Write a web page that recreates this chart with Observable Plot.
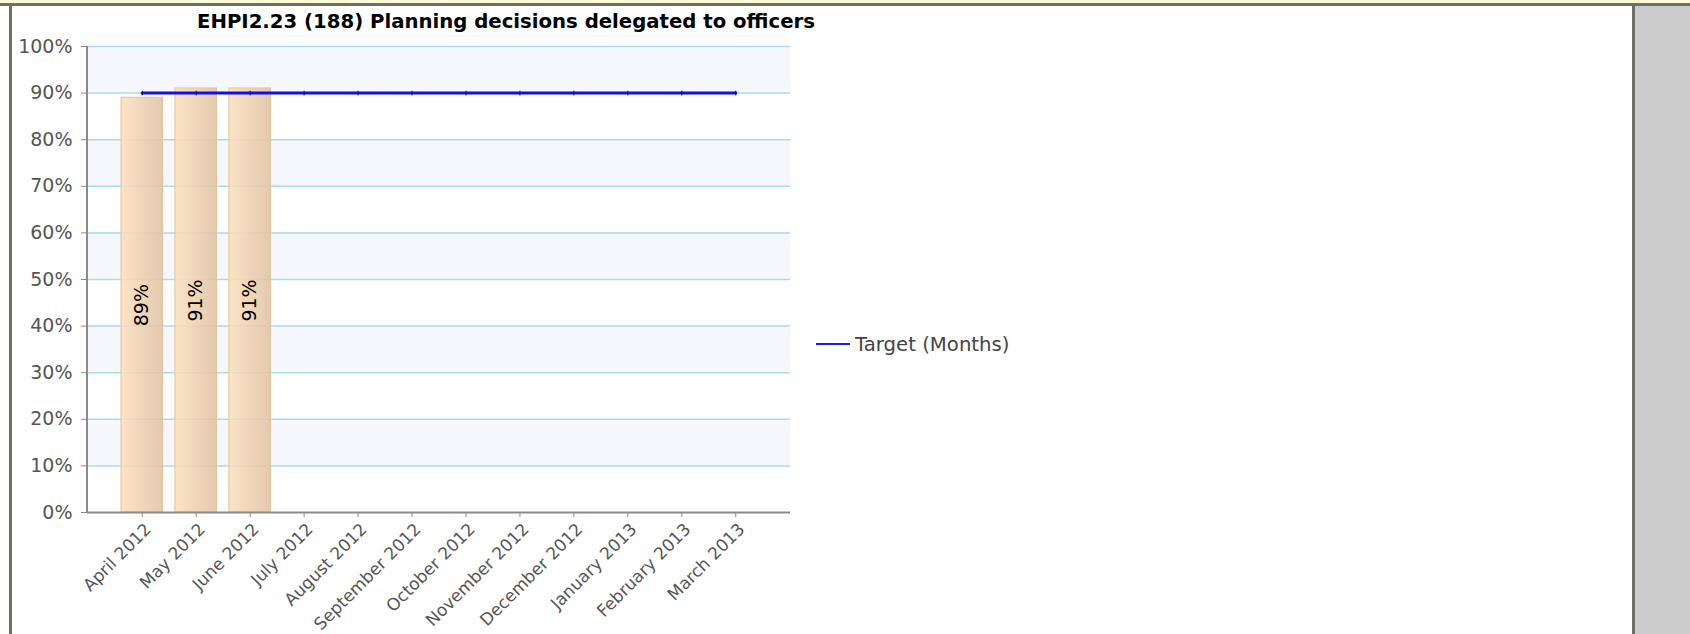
<!DOCTYPE html>
<html><head><meta charset="utf-8">
<script src="https://cdn.jsdelivr.net/npm/d3@7"></script>
<script src="https://cdn.jsdelivr.net/npm/@observablehq/plot@0.6"></script>
<style>
body{margin:0;background:#fff;font-family:"DejaVu Sans",sans-serif;}
#wrap{position:relative;width:1690px;height:634px;overflow:hidden;background:#fff;}
.topstrip{position:absolute;left:0;top:0;width:1690px;height:3px;background:#FFFCD8;}
.topline{position:absolute;left:0;top:3px;width:1690px;height:3px;background:#6F6F66;}
.lb{position:absolute;left:9px;top:3px;width:3px;height:631px;background:#6F6F66;}
.rb{position:absolute;left:1632px;top:3px;width:3px;height:631px;background:#6F6F66;}
.gp{position:absolute;left:1635px;top:6px;width:55px;height:628px;background:#CCCCCC;}
#chart{position:absolute;left:0;top:0;}
#title{position:absolute;left:0;width:1012px;top:9px;line-height:25px;text-align:center;font-weight:bold;font-size:19.7px;color:#000;white-space:nowrap;}
#legend{position:absolute;left:816px;top:333px;height:22px;display:flex;align-items:center;font-size:19.7px;color:#444;white-space:nowrap;}
#legend .sw{width:34px;height:2px;background:#1a1aff;margin-right:5px;}
</style>
</head>
<body>
<div id="wrap">
  <div class="topstrip"></div>
  <div class="topline"></div>
  <div class="lb"></div>
  <div class="rb"></div>
  <div class="gp"></div>
  <div id="chart"></div>
  <div id="title">EHPI2.23 (188) Planning decisions delegated to officers</div>
  <div id="legend"><div class="sw"></div><span>Target (Months)</span></div>
</div>
<script>
const months = ["April 2012","May 2012","June 2012","July 2012","August 2012","September 2012","October 2012","November 2012","December 2012","January 2013","February 2013","March 2013"];
const actualValues = [89, 91, 91];
const targetValues = [90, 90, 90, 90, 90, 90, 90, 90, 90, 90, 90, 90];
const yTicks = [0, 10, 20, 30, 40, 50, 60, 70, 80, 90, 100];

const bars = actualValues.map((v, i) => ({month: months[i], value: v}));
const targetData = months.map((m, i) => ({month: m, target: targetValues[i]}));
const bands = yTicks.filter((t, i) => i % 2 === 1 && t < 100).map(t => ({y1: t, y2: t + 10}));

function gradientDefs() {
  const svgNS = "http://www.w3.org/2000/svg";
  const g = document.createElementNS(svgNS, "g");
  const defs = document.createElementNS(svgNS, "defs");
  const lg = document.createElementNS(svgNS, "linearGradient");
  lg.setAttribute("id", "barGrad");
  lg.setAttribute("x1", "0"); lg.setAttribute("x2", "1");
  lg.setAttribute("y1", "0"); lg.setAttribute("y2", "0");
  [["0%", "#FBE0BD"], ["100%", "#E0C2A3"]].forEach(([o, c]) => {
    const s = document.createElementNS(svgNS, "stop");
    s.setAttribute("offset", o); s.setAttribute("stop-color", c);
    lg.appendChild(s);
  });
  defs.appendChild(lg); g.appendChild(defs);
  return g;
}

function bandMark(index, scales, values, dims) {
  const svgNS = "http://www.w3.org/2000/svg";
  const g = document.createElementNS(svgNS, "g");
  const x0 = dims.marginLeft, x1 = dims.width - dims.marginRight;
  bands.forEach(b => {
    const r = document.createElementNS(svgNS, "rect");
    const ya = scales.y(b.y2), yb = scales.y(b.y1);
    r.setAttribute("x", x0); r.setAttribute("width", x1 - x0);
    r.setAttribute("y", ya); r.setAttribute("height", yb - ya);
    r.setAttribute("fill", "#F5F7FD");
    g.appendChild(r);
  });
  return g;
}

function yAxisLine(index, scales, values, dims) {
  const svgNS = "http://www.w3.org/2000/svg";
  const l = document.createElementNS(svgNS, "line");
  l.setAttribute("x1", dims.marginLeft); l.setAttribute("x2", dims.marginLeft);
  l.setAttribute("y1", dims.marginTop); l.setAttribute("y2", dims.height - dims.marginBottom);
  l.setAttribute("stroke", "#8a8a8a"); l.setAttribute("stroke-width", 2);
  return l;
}

const chart = Plot.plot({
  width: 1690, height: 634,
  marginLeft: 87, marginRight: 900, marginTop: 46, marginBottom: 122,
  style: {background: "transparent", fontFamily: "DejaVu Sans, sans-serif", overflow: "visible"},
  x: {type: "band", domain: months, paddingInner: 0.23, paddingOuter: 0.63, round: false, label: null},
  y: {domain: [0, 100], label: null},
  marks: [
    gradientDefs,
    bandMark,
    Plot.ruleY(yTicks.slice(1), {stroke: "#A8DDE7", strokeWidth: 1.5}),
    Plot.barY(bars, {x: "month", y: "value", fill: "url(#barGrad)", fillOpacity: 0.88, stroke: "#E3C39C", strokeWidth: 1}),
    Plot.text(bars, {x: "month", y: d => d.value / 2, text: d => d.value + "%", rotate: -90, fontSize: 19, fill: "#000"}),
    Plot.lineY(targetData, {x: "month", y: "target", stroke: "#0F0FF2", strokeWidth: 3}),
    Plot.link(targetData, {x1: "month", x2: "month", y1: d => d.target - 0.5, y2: d => d.target + 0.5, stroke: "#0000A0", strokeWidth: 1}),
    Plot.ruleY([0], {stroke: "#8a8a8a", strokeWidth: 2}),
    yAxisLine,
    Plot.axisY({ticks: yTicks, tickFormat: d => d + "%", tickSize: 6, tickPadding: 9, fontSize: 19, fill: "#555", stroke: "#888", label: null}),
    Plot.axisX({tickSize: 5, tickFormat: () => "", stroke: "#888", label: null}),
    Plot.axisX({tickSize: 0, tickPadding: 12, tickRotate: -45, fontSize: 17, fill: "#555", label: null, dx: 6, dy: 2})
  ]
});
document.getElementById("chart").appendChild(chart);
</script>
</body></html>
